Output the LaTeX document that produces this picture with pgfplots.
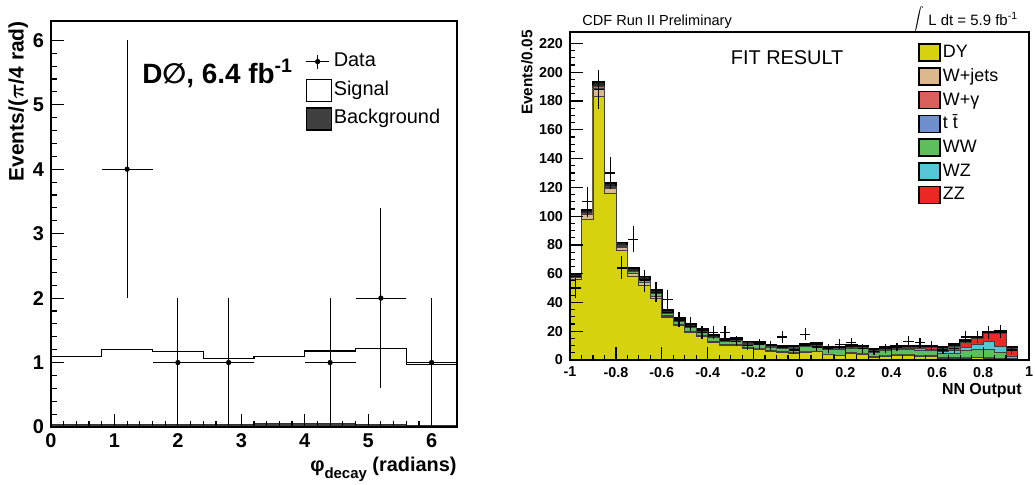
\documentclass[border=0pt]{standalone}
\usepackage{fontspec}
\setmainfont{Liberation Sans}
\newfontfamily\djv{DejaVu Sans}
\usepackage{graphicx}
\usepackage{pgfplots}
\usepackage{pgfplotstable}
\pgfplotsset{compat=1.18}

\definecolor{cDY}{RGB}{214,211,14}
\definecolor{cWJ}{RGB}{221,184,140}
\definecolor{cWG}{RGB}{217,96,92}
\definecolor{cTT}{RGB}{111,144,204}
\definecolor{cWW}{RGB}{94,190,94}
\definecolor{cWZ}{RGB}{84,198,214}
\definecolor{cZZ}{RGB}{236,40,36}
\definecolor{cBand}{RGB}{38,38,38}

% D0 phi_decay: bin left edges, last row closes the last step
\pgfplotstableread{
x    sig   bkg
0.0  1.10  0.04
0.8  1.20  0.04
1.6  1.17  0.04
2.4  1.06  0.04
3.2  1.09  0.06
4.0  1.18  0.05
4.8  1.22  0.04
5.6  0.97  0.03
6.4  0.97  0.03
}\phihist

\pgfplotstableread{
x    y   ex   ey
1.2  4   0.4  2
2.0  1   0.4  1
2.8  1   0.4  1
4.4  1   0.4  1
5.2  2   0.4  1.4
6.0  1   0.4  1
}\phidata

% CDF NN output, stacked templates (bin left edges)
\pgfplotstableread{
x     dy    wj   wg   tt   ww   wz   zz   band
-1.00 56.0  1.5  0.0  0.0  0.0  0.0  0.0  2.0
-0.95 98.0  3.0  0.5  0.0  0.3  0.0  0.0  2.7
-0.90 183.0 6.0  1.0  0.0  0.5  0.0  0.0  3.0
-0.85 116.0 3.5  0.5  0.0  0.5  0.0  0.0  2.5
-0.80 76.0  2.5  0.3  0.0  0.6  0.0  0.0  2.3
-0.75 58.0  2.2  0.3  0.0  1.0  0.0  0.0  2.5
-0.70 52.0  1.8  0.3  0.0  1.4  0.1  0.0  2.4
-0.65 42.5  1.5  0.3  0.0  1.8  0.1  0.0  2.4
-0.60 29.5  1.0  0.2  0.0  1.8  0.1  0.0  2.2
-0.55 23.8  0.8  0.2  0.0  2.0  0.1  0.0  2.1
-0.50 19.2  0.7  0.2  0.0  2.6  0.1  0.0  2.2
-0.45 16.5  0.6  0.2  0.0  2.5  0.1  0.0  1.9
-0.40 12.2  0.5  0.2  0.0  2.6  0.1  0.0  1.8
-0.35 9.8   0.4  0.2  0.1  2.4  0.1  0.1  1.6
-0.30 10.0  0.4  0.2  0.1  2.8  0.2  0.1  1.6
-0.25 8.0   0.3  0.2  0.1  2.5  0.2  0.1  1.5
-0.20 7.4   0.3  0.2  0.1  2.6  0.2  0.1  1.5
-0.15 6.2   0.3  0.2  0.1  2.2  0.2  0.1  1.4
-0.10 5.3   0.2  0.2  0.1  2.1  0.2  0.1  1.3
-0.05 4.8   0.2  0.2  0.1  2.9  0.2  0.1  1.4
0.00  5.4   0.2  0.2  0.1  3.3  0.3  0.1  1.4
0.05  5.8   0.2  0.2  0.1  3.6  0.3  0.2  1.5
0.10  3.6   0.2  0.2  0.1  3.3  0.3  0.2  1.4
0.15  2.9   0.1  0.2  0.1  4.0  0.4  0.2  1.3
0.20  4.6   0.1  0.2  0.1  3.4  0.4  0.3  1.4
0.25  4.2   0.1  0.2  0.1  3.3  0.4  0.3  1.3
0.30  1.9   0.1  0.2  0.1  3.2  0.5  0.4  1.2
0.35  2.8   0.1  0.2  0.1  3.4  0.5  0.5  1.2
0.40  3.5   0.1  0.2  0.1  3.4  0.6  0.6  1.3
0.45  3.5   0.1  0.3  0.1  3.3  0.7  0.7  1.3
0.50  2.8   0.1  0.3  0.1  3.6  0.9  0.9  1.3
0.55  2.6   0.1  0.3  0.1  3.6  1.0  1.0  1.3
0.60  1.2   0.1  0.2  0.1  3.0  1.5  2.0  1.2
0.65  1.2   0.1  0.2  0.1  3.2  1.8  3.0  1.3
0.70  1.4   0.1  0.2  0.1  4.6  2.6  3.4  1.3
0.75  1.5   0.1  0.2  0.1  5.2  3.8  4.0  1.4
0.80  1.4   0.1  0.2  0.1  5.8  5.0  5.6  1.4
0.85  1.0   0.1  0.1  0.1  3.8  4.6  9.0  1.3
0.90  0.3   0.0  0.1  0.0  0.5  1.9  5.3  1.0
0.95  0.0   0.0  0.0  0.0  0.0  0.0  0.0  0.0
1.00  0.0   0.0  0.0  0.0  0.0  0.0  0.0  0.0
}\nnhist

% CDF data, bin centres
\pgfplotstableread{
x      n    e
-0.975 50   7.1
-0.925 110  10.5
-0.875 188  13.7
-0.825 130  11.4
-0.775 64   8.0
-0.725 84   9.2
-0.675 55   7.4
-0.625 47   6.9
-0.575 42   6.5
-0.525 28   5.3
-0.475 25   5.0
-0.425 19   4.4
-0.375 19   4.4
-0.325 19   4.4
-0.275 13   3.6
-0.225 10   3.2
-0.175 11   3.3
-0.125 10   3.2
-0.075 16   4.0
-0.025 7    2.6
0.025  18   4.2
0.075  9    3.0
0.125  8    2.8
0.175  11   3.3
0.225  12   3.5
0.275  8    2.8
0.325  6    2.4
0.375  8    2.8
0.425  9    3.0
0.475  13   3.6
0.525  12   3.5
0.575  10   3.2
0.625  7    2.6
0.675  8    2.8
0.725  16   4.0
0.775  16   4.0
0.825  19   4.4
0.875  20   4.5
0.925  7    2.6
}\nndata

\pgfplotsset{
  rootframe/.style={
    scale only axis, axis on top, clip=false,
    tick pos=left, tick align=inside,
    axis line style={line width=1bp},
    tick style={black, line width=0.6bp},
    /pgf/number format/assume math mode=true,
    scaled ticks=false,
  },
}

\begin{document}
\begin{tikzpicture}
\useasboundingbox (0,0) rectangle (517.5bp,242.5bp);

% ---------------- left panel ----------------
\begin{axis}[rootframe,
  at={(25.5bp,29bp)}, anchor=south west,
  width=203bp, height=203bp,
  xmin=0, xmax=6.4, ymin=0, ymax=6.3,
  xtick={0,1,2,3,4,5,6}, ytick={0,1,2,3,4,5,6},
  minor tick num=4,
  major tick length=6.3bp, minor tick length=3.2bp,
  tick label style={font=\fontsize{10}{12}\selectfont\bfseries},
  xlabel={φ\raisebox{-0.7ex}{\fontsize{7.5}{8}\selectfont decay}\ (radians)},
  xlabel style={font=\fontsize{10}{12}\selectfont\bfseries, at={(axis description cs:1,-0.072)}, anchor=north east, inner sep=0pt},
  ylabel={Events/($\pi$/4 rad)},
  ylabel style={font=\fontsize{10.5}{12}\selectfont\bfseries\boldmath, at={(axis description cs:-0.081,1)}, anchor=east, inner sep=0pt},
  legend style={at={(0.626,0.929)}, anchor=north west, draw=none, fill=none, inner sep=0pt,
    font=\fontsize{10}{12}\selectfont, row sep=2.8bp,
    nodes={inner sep=1bp, text height=0.72em, text depth=0.22em}},
  legend cell align=left,
]
\addlegendimage{legend image code/.code={
  \draw[black, line width=0.6bp] (0bp,0bp) -- (11.5bp,0bp);
  \draw[black, line width=0.6bp] (5.75bp,-3.5bp) -- (5.75bp,3.5bp);
  \fill[black] (5.75bp,0bp) circle (1.1bp);}}
\addlegendentry{Data}
\addlegendimage{legend image code/.code={
  \draw[black, fill=white, line width=0.6bp] (0bp,-5.5bp) rectangle (12.5bp,5.5bp);}}
\addlegendentry{Signal}
\addlegendimage{legend image code/.code={
  \draw[black, fill=black!75, line width=0.6bp] (0bp,-5.5bp) rectangle (12.5bp,5.5bp);}}
\addlegendentry{Background}

\addplot[const plot, fill=black!75, draw=black!80, line width=0.4bp]
  table[x=x, y=bkg]{\phihist} \closedcycle;
\addplot[const plot, draw=black, line width=0.6bp]
  table[x=x, y=sig]{\phihist};
\addplot[only marks, mark=*, mark size=1.1bp, black,
  error bars/.cd, x dir=both, x explicit, y dir=both, y explicit, error mark=none,
  error bar style={line width=0.6bp, black}]
  table[x=x, y=y, x error=ex, y error=ey]{\phidata};

\node[anchor=base west, inner sep=0pt, font=\fontsize{14}{16}\selectfont\bfseries]
  at (rel axis cs:0.224,0.847) {D{\djv ∅}, 6.4 fb\textsuperscript{-1}};
\end{axis}

% ---------------- right panel: stacked templates ----------------
\begin{axis}[rootframe,
  at={(285bp,62.5bp)}, anchor=south west,
  width=229.5bp, height=164bp,
  xmin=-1, xmax=1, ymin=0, ymax=228,
  xtick={-1,-0.8,-0.6,-0.4,-0.2,0,0.2,0.4,0.6,0.8,1},
  ytick={0,20,...,220},
  minor tick num=3,
  major tick length=6.5bp, minor tick length=2.7bp,
  tick label style={font=\fontsize{7.2}{8}\selectfont\bfseries},
  xticklabel style={/pgf/number format/.cd, fixed, precision=1},
  xlabel={NN Output},
  xlabel style={font=\fontsize{8}{10}\selectfont\bfseries, at={(axis description cs:0.985,-0.07)}, anchor=north east, inner sep=0pt},
  ylabel={Events/0.05},
  ylabel style={font=\fontsize{7.7}{9}\selectfont\bfseries, at={(axis description cs:-0.094,1.006)}, anchor=east, inner sep=0pt},
  stack plots=y,
  legend style={at={(0.758,0.973)}, anchor=north west, draw=none, fill=none, inner sep=0pt,
    font=\fontsize{9}{11}\selectfont, row sep=0.5bp,
    nodes={inner sep=1bp, text height=0.72em, text depth=0.22em}},
  legend cell align=left,
]
\addplot[const plot, fill=cDY, draw=black!75, line width=0.4bp,
  legend image code/.code={\draw[fill=cDY, draw=black, line width=0.8bp] (0bp,-4.25bp) rectangle (10.5bp,4.25bp);}]
  table[x=x, y=dy]{\nnhist} \closedcycle;
\addlegendentry{DY}
\addplot[const plot, fill=cWJ, draw=black!75, line width=0.4bp,
  legend image code/.code={\draw[fill=cWJ, draw=black, line width=0.8bp] (0bp,-4.25bp) rectangle (10.5bp,4.25bp);}]
  table[x=x, y=wj]{\nnhist} \closedcycle;
\addlegendentry{W+jets}
\addplot[const plot, fill=cWG, draw=black!75, line width=0.4bp,
  legend image code/.code={\draw[fill=cWG, draw=black, line width=0.8bp] (0bp,-4.25bp) rectangle (10.5bp,4.25bp);}]
  table[x=x, y=wg]{\nnhist} \closedcycle;
\addlegendentry{W+γ}
\addplot[const plot, fill=cTT, draw=black!75, line width=0.4bp,
  legend image code/.code={\draw[fill=cTT, draw=black, line width=0.8bp] (0bp,-4.25bp) rectangle (10.5bp,4.25bp);}]
  table[x=x, y=tt]{\nnhist} \closedcycle;
\addlegendentry{t \={t}}
\addplot[const plot, fill=cWW, draw=black!75, line width=0.4bp,
  legend image code/.code={\draw[fill=cWW, draw=black, line width=0.8bp] (0bp,-4.25bp) rectangle (10.5bp,4.25bp);}]
  table[x=x, y=ww]{\nnhist} \closedcycle;
\addlegendentry{WW}
\addplot[const plot, fill=cWZ, draw=black!75, line width=0.4bp,
  legend image code/.code={\draw[fill=cWZ, draw=black, line width=0.8bp] (0bp,-4.25bp) rectangle (10.5bp,4.25bp);}]
  table[x=x, y=wz]{\nnhist} \closedcycle;
\addlegendentry{WZ}
\addplot[const plot, fill=cZZ, draw=black!75, line width=0.4bp,
  legend image code/.code={\draw[fill=cZZ, draw=black, line width=0.8bp] (0bp,-4.25bp) rectangle (10.5bp,4.25bp);}]
  table[x=x, y=zz]{\nnhist} \closedcycle;
\addlegendentry{ZZ}
% uncertainty band on top of the stack
\addplot[const plot, fill=cBand, draw=black, line width=0.9bp]
  table[x=x, y=band]{\nnhist} \closedcycle;

\node[anchor=base, inner sep=0pt, font=\fontsize{10}{12}\selectfont]
  at (rel axis cs:0.473,0.902) {FIT RESULT};
\node[anchor=base west, inner sep=0pt, font=\fontsize{7.3}{9}\selectfont]
  at (rel axis cs:0.026,1.021) {CDF Run II Preliminary};
\node[anchor=south, inner sep=0pt]
  at (rel axis cs:0.758,0.995) {\scalebox{0.6}{$\displaystyle\int$}};
\node[anchor=base west, inner sep=0pt, font=\fontsize{7.5}{9}\selectfont]
  at (rel axis cs:0.780,1.021) {L dt = 5.9 fb\textsuperscript{-1}};
\end{axis}

% ---------------- right panel: data points ----------------
\begin{axis}[
  at={(285bp,62.5bp)}, anchor=south west, scale only axis,
  width=229.5bp, height=164bp,
  xmin=-1, xmax=1, ymin=0, ymax=228, hide axis,
]
\addplot[only marks, mark=*, mark size=0pt, black,
  error bars/.cd, x dir=both, x fixed=0.022, y dir=both, y explicit, error mark=none,
  error bar style={line width=0.6bp, black}]
  table[x=x, y=n, y error=e]{\nndata};
\end{axis}
\end{tikzpicture}
\end{document}
